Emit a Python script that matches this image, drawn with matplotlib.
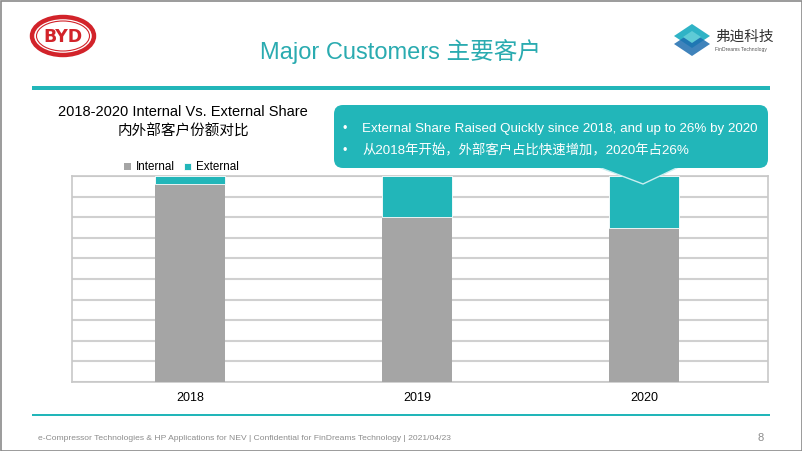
import matplotlib
matplotlib.use("Agg")
from matplotlib import pyplot as plt
from matplotlib.patches import Ellipse, FancyBboxPatch, Polygon, Rectangle

plt.rcParams["font.family"] = ["Liberation Sans", "Noto Sans CJK SC", "DejaVu Sans"]

# data
years = ["2018", "2019", "2020"]
internal = [96, 80, 75]
external = [4, 20, 25]
series_names = ["Internal", "External"]
bullets = ["External Share Raised Quickly since 2018, and up to 26% by 2020",
           "从2018年开始，外部客户占比快速增加，2020年占26%"]

teal = "#22b6b9"
gray = "#a5a5a5"
W, H = 802, 451

fig = plt.figure(figsize=(W / 100, H / 100), dpi=100)

# overlay in pixel coords for the slide decorations
bg = fig.add_axes([0, 0, 1, 1])
bg.set_xlim(0, W)
bg.set_ylim(H, 0)
bg.axis("off")

bg.add_patch(Rectangle((0.5, 0.5), W - 1, H - 1, fill=False, ec="#8a8a8a", lw=1.2))

# BYD logo
bg.add_patch(Ellipse((63, 36), 62, 38, fc="white", ec="#d2232a", lw=3.2))
bg.add_patch(Ellipse((63, 36), 53, 30, fc="none", ec="#d2232a", lw=0.8))
bg.text(63, 37, "BYD", color="#d2232a", fontsize=12.5, fontweight="bold",
        ha="center", va="center", family="DejaVu Sans")

# FinDreams logo
bg.add_patch(Polygon([(674, 36), (692, 24), (710, 36), (692, 48)], fc="#2fb3c6"))
bg.add_patch(Polygon([(674, 44), (692, 32), (710, 44), (692, 56)], fc="#1d6db0", alpha=0.85))
bg.add_patch(Polygon([(683, 37), (692, 31), (701, 37), (692, 43)], fc="#5fcbd6"))
bg.text(715, 37, "弗迪科技", fontsize=10.5, ha="left", va="center", color="#333333")
bg.text(715, 49, "FinDreams Technology", fontsize=3.6, ha="left", va="center", color="#555555")

bg.text(400, 52, "Major Customers 主要客户", fontsize=17, color="#2aabb0",
        ha="center", va="center")
bg.add_patch(Rectangle((32, 85.5), 738, 4, fc=teal, ec="none"))
bg.add_patch(Rectangle((32, 414), 738, 1.8, fc=teal, ec="none"))

bg.text(38, 438, "e-Compressor Technologies & HP Applications for NEV | Confidential for FinDreams Technology | 2021/04/23",
        fontsize=6.1, color="#8c8c8c", ha="left", va="center")
bg.text(761, 438, "8", fontsize=8, color="#8c8c8c", ha="center", va="center")

# chart title
bg.text(183, 112, "2018-2020 Internal Vs. External Share", fontsize=10.5, ha="center", va="center")
bg.text(183, 132, "内外部客户份额对比", fontsize=10.5, ha="center", va="center")

# chart
ax = fig.add_axes([72 / W, (H - 382) / H, 696 / W, 206 / H])
x = range(len(years))
ax.bar(x, internal, width=0.31, color=gray, label=series_names[0], zorder=3)
ax.bar(x, external, width=0.31, bottom=internal, color=teal, label=series_names[1],
       zorder=3, edgecolor="white", linewidth=0.6)
ax.set_xlim(-0.52, 2.545)
ax.set_ylim(0, 100)
ax.set_yticks(range(0, 101, 10))
ax.set_yticklabels([])
ax.tick_params(axis="both", length=0)
ax.set_xticks(list(x))
ax.set_xticklabels(years, fontsize=9)
ax.tick_params(axis="x", pad=7)
ax.grid(axis="y", color="#d0d0d0", linewidth=1.5, zorder=0)
for s in ax.spines.values():
    s.set_color("#c8c8c8")
    s.set_linewidth(1.2)
ax.legend(loc="lower left", bbox_to_anchor=(0.068, 0.99), ncol=2, frameon=False,
          fontsize=8.4, handlelength=0.6, handleheight=0.6, handletextpad=0.4,
          columnspacing=0.8, borderaxespad=0)

# callout on top
top = fig.add_axes([0, 0, 1, 1])
top.set_xlim(0, W)
top.set_ylim(H, 0)
top.axis("off")
top.patch.set_alpha(0)
top.add_patch(Polygon([(593, 165), (643, 184), (683, 165)], fc=teal, ec="#c9eef0", lw=1))
top.add_patch(FancyBboxPatch((334, 105), 434, 63, boxstyle="round,pad=0,rounding_size=9",
                             fc=teal, ec="none"))
for i, t in enumerate(bullets):
    yy = 129 + 22 * i
    top.text(345, yy, "•", color="white", fontsize=9, ha="center", va="center")
    top.text(362, yy, t, color="white", fontsize=9.6, ha="left", va="center")

fig.savefig("out.png", dpi=100)
